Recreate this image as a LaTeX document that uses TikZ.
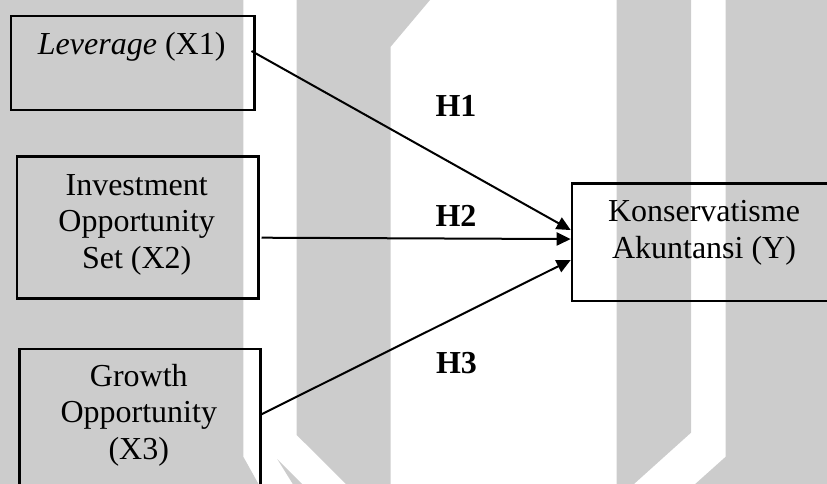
\documentclass[tikz,border=0pt]{standalone}
\usepackage{fontspec}
\setmainfont{Liberation Serif}
\usetikzlibrary{arrows.meta,calc}
\definecolor{wm}{RGB}{204,204,204}
\begin{document}
\begin{tikzpicture}[x=1pt,y=-1pt,
  box/.style={draw=black,line width=2.2pt,inner sep=0pt,anchor=north west},
  txt/.style={font=\fontsize{32}{36.7}\selectfont,align=center,inner sep=0pt,anchor=base},
  hlab/.style={font=\fontsize{32}{36.7}\selectfont\bfseries,inner sep=0pt,anchor=base},
  arr/.style={line width=2pt,-{Triangle[length=14pt,width=13pt]}}]
\useasboundingbox (0,0) rectangle (827,484);
% watermark
\fill[wm] (0,0) -- (243.3,0) -- (243.3,456.7) -- (258.5,484) -- (0,484) -- cycle;
\fill[wm] (277.2,459) -- (302.2,484) -- (292.8,484) -- cycle;
\fill[wm] (296.7,0) -- (430,0) -- (390.7,46.7) -- (390.7,484) -- (346,484) -- (296.7,435) -- cycle;
\fill[wm] (616.7,0) -- (691,0) -- (691,432.7) -- (634,484) -- (616.7,484) -- cycle;
\fill[wm] (725.7,0) -- (827,0) -- (827,484) -- (695.2,484) -- (725.7,456.7) -- cycle;
% boxes
\node[box,minimum width=243.3pt,minimum height=94pt] (x1) at (10,14.7) {};
\node[box,minimum width=241.3pt,minimum height=142pt] (x2) at (16,155.3) {};
\node[box,minimum width=241pt,minimum height=150pt] (x3) at (18.3,347.7) {};
\node[box,minimum width=266.3pt,minimum height=117.7pt] (y) at (570.7,182.3) {};
% texts (base anchor = baseline of last line)
\node[txt] (x1t) at (131.7,55) {\textit{Leverage} (X1)};
\node[txt] (x2t) at (136.7,268.4) {Investment\\Opportunity\\Set (X2)};
\node[txt] (x3t) at (138.8,459.4) {Growth\\Opportunity\\(X3)};
\node[txt] (yt) at (704,258.4) {Konservatisme\\Akuntansi (Y)};
% labels
\node[hlab] (h1) at (456,116.7) {H1};
\node[hlab] (h2) at (456,226.7) {H2};
\node[hlab] (h3) at (456.5,373.3) {H3};
% arrows
\draw[arr] ([shift={(-4,36.3)}]x1.north east) -- ([shift={(0,-12.2)}]y.west);
\draw[arr] ([shift={(2,82.4)}]x2.north east) -- ([shift={(0,-3.2)}]y.west);
\draw[arr] ([shift={(0,66.6)}]x3.north east) -- ([shift={(0,17.8)}]y.west);
\end{tikzpicture}
\end{document}
